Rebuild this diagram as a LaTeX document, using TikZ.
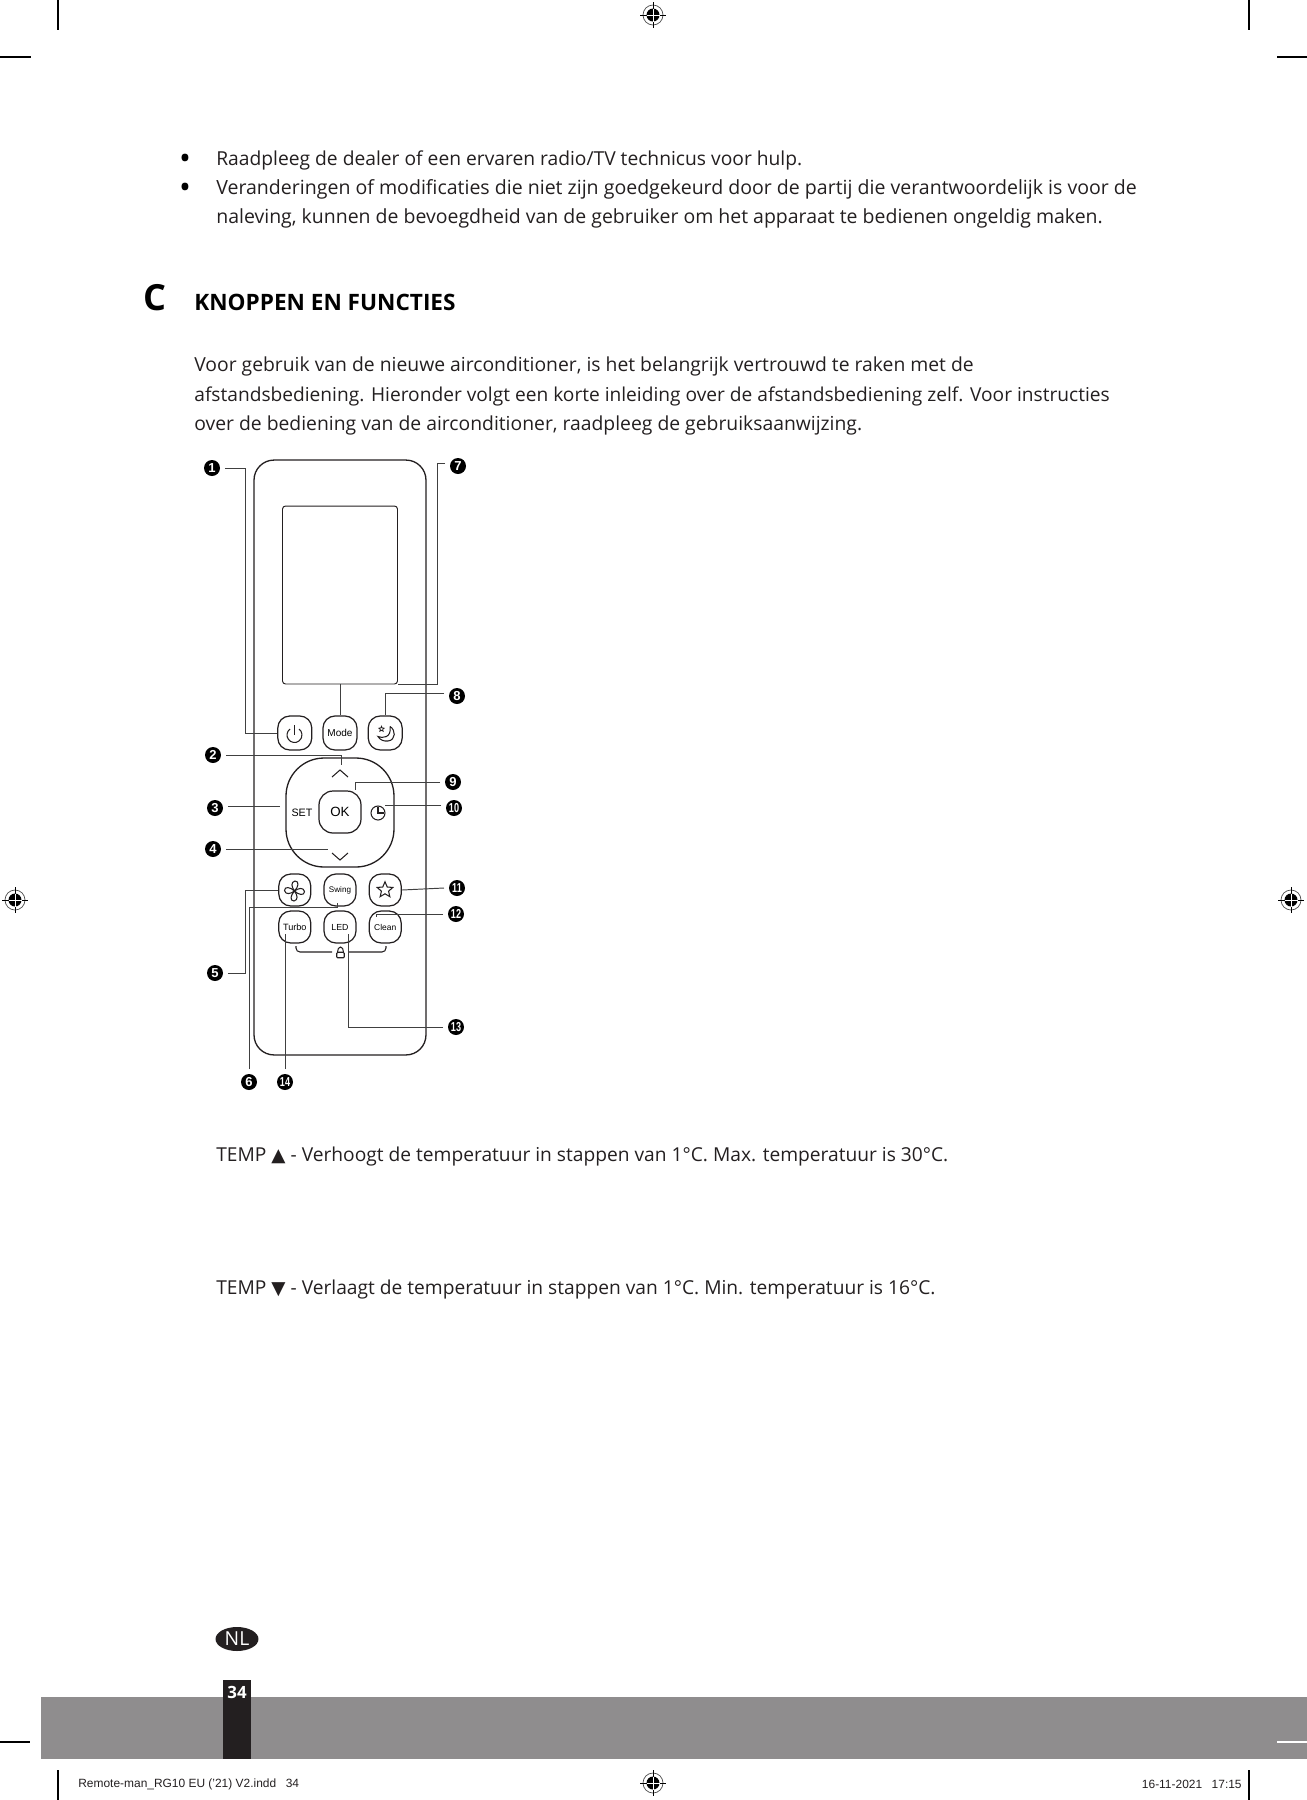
\documentclass[tikz,border=0pt]{standalone}
\usepackage{fontspec}
\setmainfont{Open Sans}
\setsansfont{Liberation Sans}
\newfontfamily\symfont{DejaVu Sans}
\usepackage{tikz}
\usetikzlibrary{shapes.geometric, positioning}
\definecolor{inkblack}{RGB}{35,31,32}
\definecolor{bandgray}{RGB}{143,141,142}

\begin{document}
\begin{tikzpicture}[
  x=0.02cm, y=-0.02cm,
  node distance=0.2cm,
  body/.style={anchor=base west, inner sep=0pt, text=inkblack, font=\fontsize{11}{13}\selectfont},
  bodywide/.style={body, font=\fontsize{11.12}{13}\selectfont},
  bodytemp/.style={body, font=\fontsize{10.92}{13}\selectfont},
  bul/.style={anchor=base, inner sep=0pt, text=black, font=\fontsize{18}{20}\selectfont},
  foot/.style={inner sep=0pt, text=inkblack, font=\sffamily\fontsize{6.8}{8}\selectfont},
  shell/.style={rectangle, draw=inkblack, line width=0.75pt, rounded corners=0.4cm, minimum width=3.44cm, minimum height=11.9cm},
  screen/.style={rectangle, draw=inkblack, line width=0.55pt, rounded corners=0.06cm, minimum width=2.3cm, minimum height=3.56cm},
  dpad/.style={rectangle, draw=inkblack, line width=0.75pt, rounded corners=0.76cm, minimum width=2.16cm, minimum height=2.18cm},
  btn/.style={rectangle, draw=inkblack, line width=0.7pt, rounded corners=0.24cm, minimum size=0.68cm, inner sep=0pt, font=\sffamily\fontsize{5.7}{6}\selectfont},
  btnlow/.style={btn, minimum size=0.64cm, rounded corners=0.24cm},
  num/.style={circle, fill=black, text=white, minimum size=0.32cm, inner sep=0pt, outer sep=0.1cm, font=\sffamily\bfseries\fontsize{7.4}{8}\selectfont},
  lead/.style={draw=black!75, line width=0.55pt},
  icon/.style={draw=inkblack, line width=0.6pt},
  crop/.style={draw=black, line width=0.6pt}
]
\useasboundingbox (0,0) rectangle (1307,1800);

% ---- Crop marks ----
\draw[crop] (58,0) -- (58,30);
\draw[crop] (1249,0) -- (1249,30);
\draw[crop] (0,57) -- (31,57);
\draw[crop] (1277,57) -- (1307,57);
\draw[crop] (58,1770) -- (58,1800);
\draw[crop] (1249,1770) -- (1249,1800);

% ---- Registration marks ----
\foreach \cx/\cy in {653/15, 15/900, 1291/900, 653/1783} {
  \draw[black!70, line width=0.4pt] (\cx,\cy) circle (10);
  \fill[black] (\cx,\cy) circle (6.5);
  \draw[black, line width=0.5pt] (\cx-13,\cy) -- (\cx+13,\cy);
  \draw[black, line width=0.5pt] (\cx,\cy-13) -- (\cx,\cy+13);
  \draw[white, line width=0.4pt] (\cx-6.5,\cy) -- (\cx+6.5,\cy);
  \draw[white, line width=0.4pt] (\cx,\cy-6.5) -- (\cx,\cy+6.5);
}

% ---- Top text ----
\node[bul] (bula) at (185,169) {•};
\node[body, font=\fontsize{10.95}{13}\selectfont] (linea) at (216,165) {Raadpleeg de dealer of een ervaren radio/TV technicus voor hulp.};
\node[bul] (bulb) at (185,198) {•};
\node[bodywide] (lineb) at (216,194) {Veranderingen of modificaties die niet zijn goedgekeurd door de partij die verantwoordelijk is voor de};
\node[body, font=\fontsize{11.08}{13}\selectfont] (linec) at (216,223) {naleving, kunnen de bevoegdheid van de gebruiker om het apparaat te bedienen ongeldig maken.};

% ---- Heading ----
\node[body, font=\bfseries\fontsize{20.5}{24}\selectfont, text=black] (secletter) at (143,310) {C};
\node[body, font=\bfseries\fontsize{12.85}{15}\selectfont, text=black] (sectitle) at (194,310) {KNOPPEN EN FUNCTIES};

\node[body] (intra) at (194,371) {Voor gebruik van de nieuwe airconditioner, is het belangrijk vertrouwd te raken met de};
\node[body, font=\fontsize{10.9}{13}\selectfont] (intrb) at (194,401) {afstandsbediening. Hieronder volgt een korte inleiding over de afstandsbediening zelf. Voor instructies};
\node[body] (intrc) at (194,430) {over de bediening van de airconditioner, raadpleeg de gebruiksaanwijzing.};

% ---- Remote body ----
\node[shell] (remote) at (340,757.5) {};
\node[screen] (display) at (340,595) {};

\node[btn] (btnmode) at (340,733) {Mode};
\node[btn, left=of btnmode] (btnpower) {};
\node[btn, right=of btnmode] (btnsleep) {};

\node[dpad] (pad) at (340,812.5) {};
\node[btn, minimum size=0.84cm, rounded corners=0.28cm, font=\sffamily\fontsize{7.6}{8}\selectfont] (btnok) at (340,812) {OK};
\node[inner sep=0pt, font=\sffamily\fontsize{6.1}{7}\selectfont] (btnset) at (302,813) {SET};

\node[btnlow, font=\sffamily\fontsize{4.6}{5}\selectfont] (btnswing) at (340,890) {Swing};
\node[btnlow, left=0.24cm of btnswing] (btnfan) {};
\node[btnlow, right=0.24cm of btnswing] (btnfav) {};
\node[btnlow, font=\sffamily\fontsize{5}{6}\selectfont] (btnled) at (340,927) {LED};
\node[btnlow, left=0.24cm of btnled, font=\sffamily\fontsize{5.2}{6}\selectfont] (btnturbo) {Turbo};
\node[btnlow, right=0.24cm of btnled, font=\sffamily\fontsize{4.8}{6}\selectfont] (btnclean) {Clean};

% ---- Icons ----
\draw[icon] (294.5,725) -- (294.5,735);
\draw[icon] (290,729) arc (-127:-413:7.5 and 7.5);
\draw[icon] (390,726.5) .. controls (396,730) and (396,740) .. (388,741) .. controls (384,741.5) and (380,740) .. (378,736.5) .. controls (382,738.5) and (392,738) .. (390,726.5);
\node[star, star points=5, star point ratio=2.2, draw=inkblack, line width=0.45pt, inner sep=0pt, minimum size=0.11cm] (moonstar) at (381.5,729) {};
\draw[icon] (332,777) -- (340,770) -- (348,777);
\draw[icon] (332,853) -- (340,860) -- (348,853);
\draw[icon] (378,813) circle (7);
\draw[icon] (378,807) -- (378,813) -- (384,813);
\foreach \a in {0,90,180,270}
  \draw[icon, rotate around={\a:(294.5,891)}] (294.5,891) .. controls (291.5,887) and (290.5,882) .. (295,881) .. controls (299.5,881) and (298.5,887) .. (294.5,891);
\node[star, star points=5, star point ratio=2.2, draw=inkblack, line width=0.6pt, inner sep=0pt, minimum size=0.33cm] (favstar) at (385,890) {};

% ---- Lock bracket ----
\node[rectangle, draw=inkblack, line width=0.6pt, rounded corners=0.02cm, minimum width=0.15cm, minimum height=0.11cm, inner sep=0pt] (lockbody) at (340.5,955) {};
\draw[icon] (337.5,952) arc (180:360:3 and 5);
\draw[icon, rounded corners=0.08cm] (296,946) |- ([xshift=-0.08cm]lockbody.west |- 0,952);
\draw[icon, rounded corners=0.08cm] (386,946) |- ([xshift=0.08cm]lockbody.east |- 0,952);

% ---- Numbers ----
\node[num] (n1) at (212,468) {1};
\node[num] (n2) at (213,755) {2};
\node[num] (n3) at (215,808) {3};
\node[num] (n4) at (213,849) {4};
\node[num] (n5) at (215,973) {5};
\node[num] (n6) at (249,1082) {6};
\node[num] (n7) at (458,466) {7};
\node[num] (n8) at (457,696) {8};
\node[num] (n9) at (453,782) {9};
\node[num] (n10) at (454,808) {\scalebox{0.7}[1]{10}};
\node[num] (n11) at (457,888) {\scalebox{0.7}[1]{11}};
\node[num] (n12) at (456,914) {\scalebox{0.7}[1]{12}};
\node[num] (n13) at (456,1027) {\scalebox{0.7}[1]{13}};
\node[num] (n14) at (285,1082) {\scalebox{0.7}[1]{14}};

% ---- Leaders ----
\draw[lead] (n1.east) -- ++(20,0) |- (btnpower.west);
\draw[lead] (n7.170) -- ++(-8,0) |- (display.south east);
\draw[lead] (display.south) -- (btnmode.north);
\draw[lead] (n8.170) -| (btnsleep.north);
\draw[lead] (n2.east) -- ++(115,0) -- ++(0,10);
\draw[lead] (n9.west) -| ([xshift=0.3cm]btnok.north);
\draw[lead] (n3.5) -- ++(52,0);
\draw[lead] (n10.170) -- ++(-56,0);
\draw[lead] (n4.east) -- ++(102,0);
\draw[lead] (n5.east) -- ++(17,0) |- (btnfan.west);
\draw[lead] (n11.west) -- (btnfav.east);
\draw[lead] (n12.west) -- ++(-67,0) -- ++(0,3);
\draw[lead] (n13.west) -- ++(-95,0) -- ++(0,-93);
\draw[lead] (n6.north) -- ++(0,-162) -- ++(88,0) -- ++(0,-4);
\draw[lead] (n14.north) -- ++(0,-135);

% ---- Temperature lines ----
\node[bodytemp] (tempup) at (216,1161) {TEMP {\symfont\fontsize{10.5}{12}\selectfont ▲} - Verhoogt de temperatuur in stappen van 1°C. Max. temperatuur is 30°C.};
\node[bodytemp] (tempdown) at (216,1294) {TEMP {\symfont\fontsize{10.5}{12}\selectfont ▼} - Verlaagt de temperatuur in stappen van 1°C. Min. temperatuur is 16°C.};

% ---- Footer ----
\fill[bandgray] (41,1697) rectangle (1307,1759);
\draw[draw=white, line width=0.6pt] (1277,1742) -- (1307,1742);
\draw[crop] (0,1742) -- (30,1742);
\fill[inkblack] (223,1680) rectangle (251,1759);
\node[inner sep=0pt, text=white, font=\bfseries\fontsize{9.6}{12}\selectfont] (pagenum) at (237,1692) {34};
\node[ellipse, fill=inkblack, text=white, minimum width=0.86cm, minimum height=0.48cm, inner sep=0pt, font=\fontsize{11}{12}\selectfont] (langtag) at (237,1639) {NL};
\node[foot, anchor=west] (footfile) at (78,1784) {Remote-man\_RG10 EU ('21) V2.indd\hspace{0.8em}34};
\node[foot, anchor=east] (footdate) at (1242,1784) {16-11-2021\hspace{0.8em}17:15};

\end{tikzpicture}
\end{document}
